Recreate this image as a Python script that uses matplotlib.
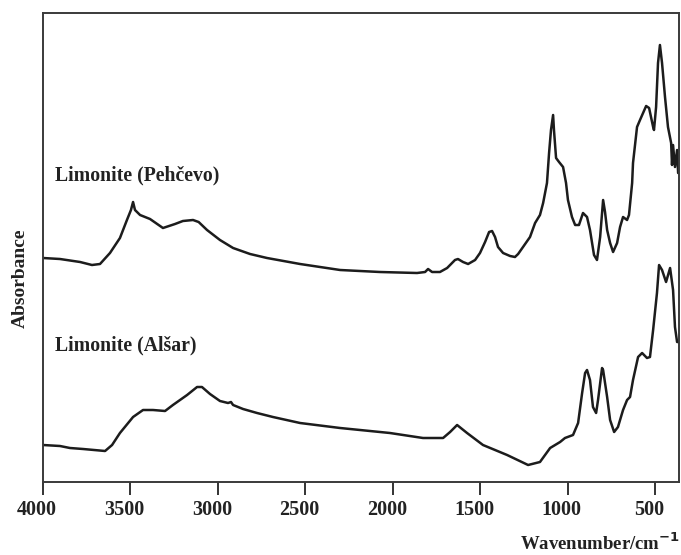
import matplotlib
matplotlib.use("Agg")
import matplotlib.pyplot as plt
import matplotlib.transforms as mtransforms

# IR spectra of two limonite samples (absorbance in arbitrary units, curves offset)
pehcevo_wn = [4000, 3903, 3788, 3720, 3674, 3617, 3560, 3520, 3497, 3485, 3474,
              3445, 3388, 3314, 3245, 3200, 3142, 3110, 3062, 2988, 2913, 2816,
              2719, 2530, 2301, 2073, 1861, 1815, 1798, 1775, 1730, 1689, 1644,
              1627, 1598, 1569, 1529, 1501, 1472, 1449, 1432, 1415, 1398, 1369,
              1329, 1301, 1283, 1255, 1215, 1186, 1158, 1140, 1118, 1106, 1095,
              1083, 1078, 1066, 1049, 1026, 1009, 998, 975, 957, 935, 912, 889,
              872, 849, 832, 814, 797, 786, 774, 757, 740, 717, 700, 683, 660,
              649, 631, 626, 603, 586, 551, 534, 511, 506, 494, 483, 472, 460,
              443, 426, 408, 403, 397, 386, 374, 368, 363]
pehcevo_abs = [224, 223, 220, 217, 218, 229, 244, 262, 272, 280, 272,
               267, 263, 254, 258, 261, 262, 260, 252, 242, 234, 228,
               224, 218, 212, 210, 209, 210, 213, 210, 210, 214, 222,
               223, 220, 218, 222, 229, 240, 250, 251, 245, 235, 229,
               226, 225, 228, 235, 245, 259, 267, 279, 299, 329, 352,
               367, 352, 324, 320, 315, 299, 282, 265, 257, 257, 269, 265,
               252, 227, 222, 245, 282, 270, 252, 239, 230, 239, 255, 265, 262,
               267, 299, 319, 355, 362, 376, 374, 355, 352, 375, 419, 437, 419,
               385, 355, 339, 317, 337, 315, 332, 309, 312]

alsar_wn = [4000, 3903, 3846, 3771, 3645, 3605, 3560, 3485, 3428, 3371, 3302,
            3257, 3176, 3119, 3091, 3045, 2988, 2942, 2925, 2913, 2856, 2776,
            2685, 2530, 2301, 2016, 1827, 1712, 1672, 1632, 1575, 1484, 1346,
            1226, 1158, 1100, 1043, 1015, 969, 940, 917, 900, 889, 872, 855,
            837, 826, 803, 797, 774, 757, 734, 712, 683, 660, 643, 626, 597,
            574, 546, 529, 511, 489, 477, 460, 437, 414, 397, 386, 374, 363]
alsar_abs = [37, 36, 34, 33, 31, 37, 49, 65, 72, 72, 71,
             77, 87, 95, 95, 88, 81, 79, 80, 77, 73, 69,
             65, 59, 54, 49, 44, 44, 50, 57, 49, 37, 27,
             17, 20, 34, 40, 44, 47, 59, 89, 109, 112, 102, 75,
             69, 82, 114, 112, 85, 62, 50, 55, 72, 82, 85, 102, 125,
             129, 124, 125, 152, 189, 217, 212, 200, 214, 192, 155, 140, 140]

xticks = [4000, 3500, 3000, 2500, 2000, 1500, 1000, 500]

font = "Liberation Serif"
ink = "#1c1c1c"
text_ink = "#222222"

fig = plt.figure(figsize=(6.81, 5.55), dpi=100)
ax = fig.add_axes([43 / 681, 73 / 555, 636 / 681, 469 / 555])

for wn, ab in [(pehcevo_wn, pehcevo_abs), (alsar_wn, alsar_abs)]:
    ax.plot(wn, ab, color=ink, lw=1.8, solid_joinstyle="round",
            solid_capstyle="round")

ax.set_xlim(4000, 363)
ax.set_ylim(0, 469)
ax.set_yticks([])
ax.set_xticks(xticks)
ax.set_xticklabels([str(t) for t in xticks], fontfamily=font,
                   fontweight="bold", fontsize=14.5, color=text_ink)
ax.tick_params(axis="x", direction="out", length=9, width=1.4,
               color="#333333", pad=4)

# nudge tick labels slightly left of their ticks
shift = mtransforms.ScaledTranslation(-6 / 100, 0, fig.dpi_scale_trans)
for lab in ax.get_xticklabels():
    lab.set_transform(lab.get_transform() + shift)

for sp in ax.spines.values():
    sp.set_linewidth(1.4)
    sp.set_color("#3a3a3a")

ax.text(0.019, (482 - 175) / 469, "Limonite (Pehčevo)", transform=ax.transAxes,
        fontfamily=font, fontweight="bold", fontsize=14.2, color=text_ink,
        ha="left", va="center")
ax.text(0.019, (482 - 345) / 469, "Limonite (Alšar)", transform=ax.transAxes,
        fontfamily=font, fontweight="bold", fontsize=14.2, color=text_ink,
        ha="left", va="center")

fig.text(20 / 681, 1 - 278 / 555, "Absorbance", rotation=90,
         fontfamily=font, fontweight="bold", fontsize=14, color=text_ink,
         ha="center", va="center")
fig.text(680 / 681, 1 - 543 / 555, "Wavenumber/cm$^{\\mathbf{-1}}$",
         fontfamily=font, fontweight="bold", fontsize=13.5, color=text_ink,
         ha="right", va="center")

fig.savefig("out.png", dpi=100)
